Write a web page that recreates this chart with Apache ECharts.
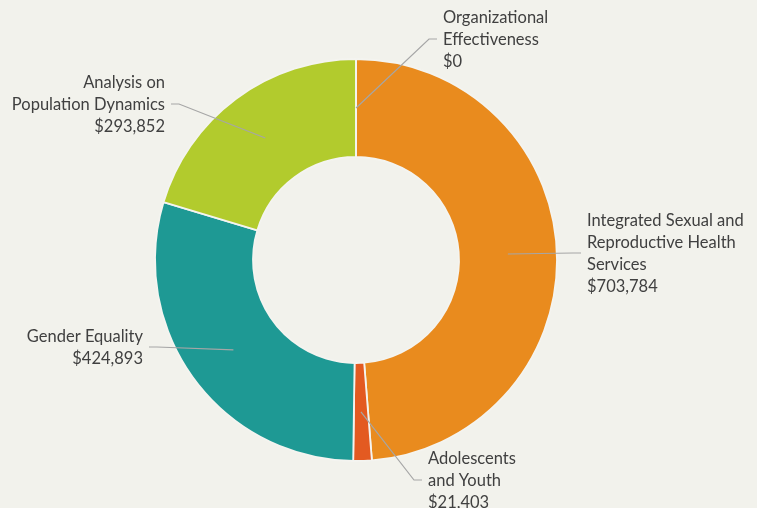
<!DOCTYPE html>
<html>
<head>
<meta charset="utf-8">
<script src="https://cdn.jsdelivr.net/npm/echarts@6/dist/echarts.min.js"></script>
<style>
html,body{margin:0;padding:0;background:#f2f2ec;}
#c{width:757px;height:508px;}
</style>
</head>
<body>
<div id="c"></div>
<script>
// ---- data ----
var categories = [
  'Integrated Sexual and Reproductive Health Services',
  'Adolescents and Youth',
  'Gender Equality',
  'Analysis on Population Dynamics',
  'Organizational Effectiveness'
];
var values = [703784, 21403, 424893, 293852, 0];
var labelTexts = [
  'Integrated Sexual and\nReproductive Health\nServices',
  'Adolescents\nand Youth',
  'Gender Equality',
  'Analysis on\nPopulation Dynamics',
  'Organizational\nEffectiveness'
];
var colors = ['#e98b1e', '#e35a21', '#1e9994', '#b2cb2d', '#7f7f7f'];

// ---- label placement (annotation layout) ----
var labelPos = [
  {x: 587, y: 254, align: 'left'},
  {x: 428, y: 481, align: 'left'},
  {x: 143, y: 348, align: 'right'},
  {x: 165, y: 105, align: 'right'},
  {x: 443, y: 40, align: 'left'}
];

function fmtMoney(v) {
  return '$' + v.toLocaleString('en-US');
}

var ringData = categories.map(function (c, i) {
  return {name: c, value: values[i], itemStyle: {color: colors[i]}};
});
var labelData = categories.map(function (c, i) {
  return {name: c, value: values[i]};
});

var chart = echarts.init(document.getElementById('c'));
var CX = 356, CY = 260, R_IN = 103, R_OUT = 201;
var R_MID = (R_IN + R_OUT) / 2;

chart.setOption({
  backgroundColor: '#f2f2ec',
  animation: false,
  series: [
    {
      type: 'pie',
      center: [CX, CY],
      radius: [R_IN, R_OUT],
      startAngle: 90,
      clockwise: true,
      silent: true,
      itemStyle: {borderColor: '#f4f4f0', borderWidth: 1.8},
      label: {show: false},
      labelLine: {show: false},
      data: ringData,
      z: 1
    },
    {
      type: 'pie',
      center: [CX, CY],
      radius: [0, R_MID],
      startAngle: 90,
      clockwise: true,
      silent: true,
      itemStyle: {color: 'rgba(0,0,0,0)', borderWidth: 0},
      emphasis: {disabled: true},
      label: {
        show: true,
        position: 'outside',
        color: '#404040',
        fontFamily: 'Lato',
        fontSize: 16.5,
        lineHeight: 22,
        formatter: function (p) {
          return labelTexts[p.dataIndex] + '\n' + fmtMoney(values[p.dataIndex]);
        }
      },
      labelLine: {show: true, lineStyle: {color: '#a6a6a6', width: 1.2}},
      labelLayout: function (params) {
        var lp = labelPos[params.dataIndex];
        var start = params.labelLinePoints && params.labelLinePoints[0];
        var dir = lp.align === 'left' ? -1 : 1;
        var p2 = [lp.x + dir * 6, lp.y - 1];
        var p1 = [p2[0] + dir * 8, p2[1]];
        var res = {x: lp.x, y: lp.y, align: lp.align, verticalAlign: 'middle', hideOverlap: false, moveOverlap: false};
        if (start) {
          res.labelLinePoints = [start, p1, p2];
        }
        return res;
      },
      data: labelData,
      z: 5
    }
  ]
});
</script>
</body>
</html>
